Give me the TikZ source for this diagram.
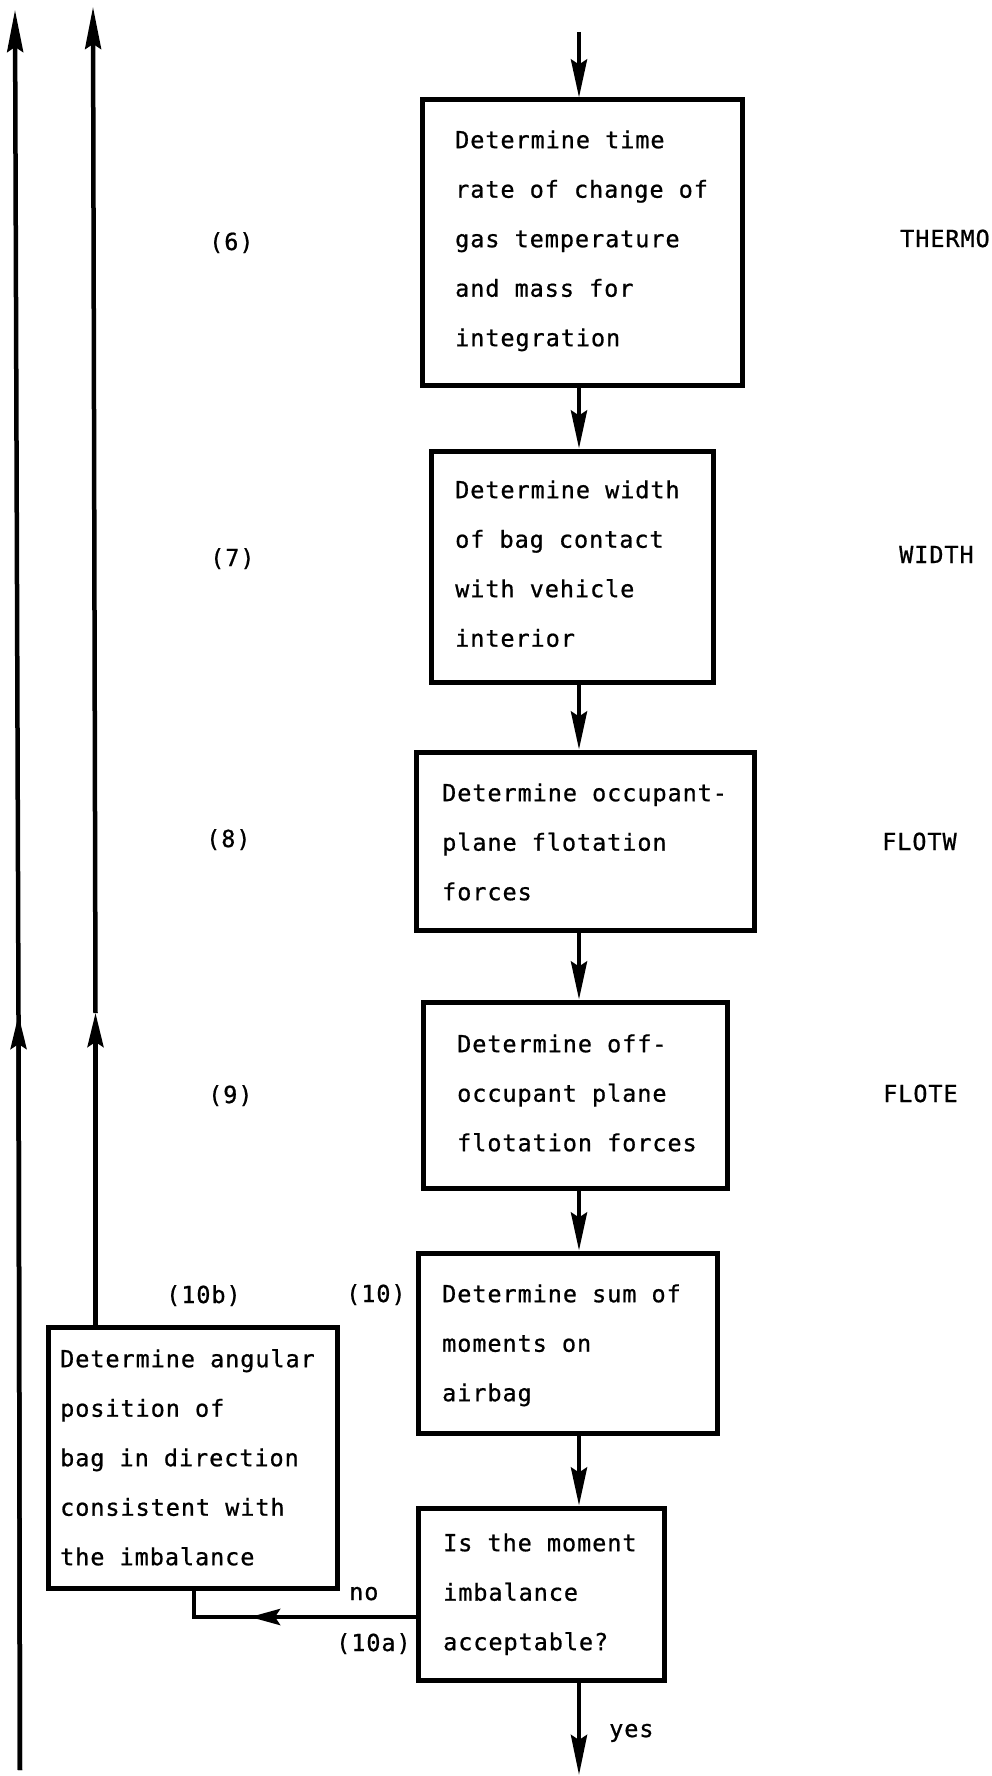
\documentclass[tikz,border=0pt]{standalone}
\usepackage{fontspec}
\newfontfamily\typefont{DejaVu Sans Mono}[LetterSpace=4.0,FakeBold=0.8]
\usetikzlibrary{arrows.meta}

\begin{document}
\begin{tikzpicture}[x=1pt,y=-1pt,
  box/.style={draw, rectangle, line width=5pt, inner sep=0pt},
  txt/.style={inner sep=0pt, align=left, anchor=north west,
    font=\typefont\fontsize{23.5}{49.5}\selectfont},
  lab/.style={inner sep=0pt, anchor=base west,
    font=\typefont\fontsize{23.5}{49.5}\selectfont},
  flow/.style={line width=4.5pt, line join=miter},
  head/.style={-{Stealth[length=#1,width=16pt,inset=5pt]}},
]
\useasboundingbox (0,0) rectangle (991,1776);

% process boxes
\node[box, minimum width=320pt, minimum height=285pt] (b1) at (582,242.5) {};
\node[box, minimum width=282pt, minimum height=231pt] (b2) at (572,566.5) {};
\node[box, minimum width=338pt, minimum height=178pt] (b3) at (585,841) {};
\node[box, minimum width=304pt, minimum height=186pt] (b4) at (575,1095) {};
\node[box, minimum width=299pt, minimum height=180pt] (b5) at (567.5,1343) {};
\node[box, minimum width=246pt, minimum height=172pt] (b6) at (541,1594) {};
\node[box, minimum width=289pt, minimum height=261pt] (b10b) at (192.5,1457.5) {};

% box texts
\node[txt] (t1) at (455,128) {\rule{0pt}{20pt}Determine time\\rate of change of\\gas temperature\\and mass for\\integration};
\node[txt] (t2) at (455,478) {\rule{0pt}{20pt}Determine width\\of bag contact\\with vehicle\\interior};
\node[txt] (t3) at (442,781) {\rule{0pt}{20pt}Determine occupant-\\plane flotation\\forces};
\node[txt] (t4) at (457,1032) {\rule{0pt}{20pt}Determine off-\\occupant plane\\flotation forces};
\node[txt] (t5) at (442,1282) {\rule{0pt}{20pt}Determine sum of\\moments on\\airbag};
\node[txt] (t6) at (443,1531) {\rule{0pt}{20pt}Is the moment\\imbalance\\acceptable?};
\node[txt] (t10b) at (60,1347) {\rule{0pt}{20pt}Determine angular\\position of\\bag in direction\\consistent with\\the imbalance};

% step numbers
\node[lab] (n6) at (209,250) {(6)};
\node[lab] (n7) at (210,566) {(7)};
\node[lab] (n8) at (206,847) {(8)};
\node[lab] (n9) at (208,1103) {(9)};
\node[lab] (n10b) at (166,1303) {(10b)};
\node[lab] (n10) at (346,1302) {(10)};
\node[lab] (n10a) at (336,1651) {(10a)};
\node[lab] (lno) at (349,1600) {no};
\node[lab] (lyes) at (609,1737) {yes};

% subroutine names
\node[lab] (s6) at (900,247) {THERMO};
\node[lab] (s7) at (899,563) {WIDTH};
\node[lab] (s8) at (882,850) {FLOTW};
\node[lab] (s9) at (883,1102) {FLOTE};

% main column
\coordinate (ctop) at (579,32);
\coordinate (cend) at (579,1775);
\draw[flow, head=38pt] (ctop) -- (b1.north -| ctop);
\draw[flow, head=38pt] (b1.south -| ctop) -- (b2.north -| ctop);
\draw[flow, head=38pt] (b2.south -| ctop) -- (b3.north -| ctop);
\draw[flow, head=38pt] (b3.south -| ctop) -- (b4.north -| ctop);
\draw[flow, head=38pt] (b4.south -| ctop) -- (b5.north -| ctop);
\draw[flow, head=38pt] (b5.south -| ctop) -- (b6.north -| ctop);
\draw[flow, head=40pt] (b6.south -| ctop) -- (cend);

% outer return line
\coordinate (l1bot) at (20,1770);
\coordinate (l1mid) at (18.5,1015);
\coordinate (l1top) at (15,10);
\draw[flow] (l1bot) -- (l1mid);
\draw[flow, head=34pt] (l1bot) -- (l1mid);
\draw[flow, head=42pt] (l1mid) -- (l1top);

% return line from (10b)
\coordinate (l2mid) at (95.5,1013);
\coordinate (l2top) at (93,7);
\draw[flow, head=34pt] (b10b.north -| l2mid) -- (l2mid);
\draw[flow, head=42pt] (l2mid) -- (l2top);

% "no" branch
\coordinate (noturn) at (194,1617);
\coordinate (notip) at (250,1617);
\draw[flow] (b6.west |- noturn) -- (noturn) -- (b10b.south -| noturn);
\draw[flow, head=30pt] (b6.west |- noturn) -- (notip);
\end{tikzpicture}
\end{document}
